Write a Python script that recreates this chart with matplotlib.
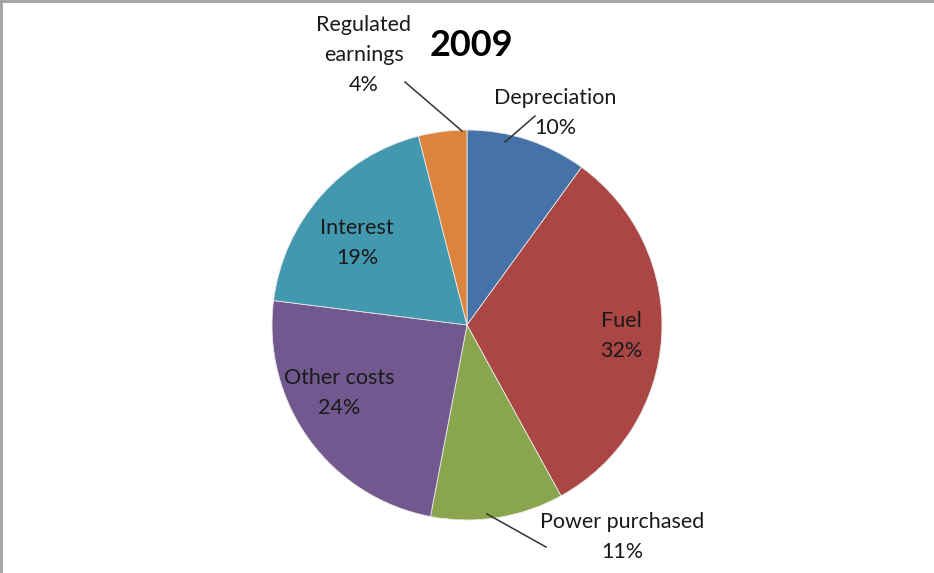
import matplotlib.pyplot as plt

categories = ['Depreciation', 'Fuel', 'Power purchased', 'Other costs', 'Interest', 'Regulated\nearnings']
shares = [10, 32, 11, 24, 19, 4]
colors = ['#4572A7', '#AA4643', '#89A54E', '#71588F', '#4198AF', '#DB843D']

# label anchors (pixels, y from top) and leader line ends
label_pos = [(555, 113), (621, 336), (622, 537), (339, 393), (357, 243), (364, 55)]
leaders = {0: ((505, 142), (535, 116)),
           2: ((487, 514), (546, 547)),
           5: ((462, 131), (405, 82))}

plt.rcParams['font.family'] = ['Lato', 'DejaVu Sans']

fig = plt.figure(figsize=(9.34, 5.73), dpi=100)
ax = fig.add_axes([0, 0, 1, 1])

# y axis is inverted, so counterclock=True runs clockwise on screen
ax.pie(shares, colors=colors, startangle=-90, counterclock=True,
       center=(467, 325), radius=195, frame=True,
       wedgeprops=dict(linewidth=0.6, edgecolor='#e8e8e8'))
ax.set_xlim(0, 934)
ax.set_ylim(573, 0)
ax.set_aspect('equal')
ax.axis('off')

for i, (name, val) in enumerate(zip(categories, shares)):
    x, y = label_pos[i]
    ax.text(x, y, f'{name}\n{val}%', ha='center', va='center', fontsize=15.5,
            color='#1a1a1a', linespacing=1.6)

for (x0, y0), (x1, y1) in leaders.values():
    ax.plot([x0, x1], [y0, y1], color='#333333', lw=1.1)

ax.text(471, 45, '2009', ha='center', va='center', fontsize=26, fontweight='bold')

# frame edges on top and left
fig.add_artist(plt.Line2D([0, 1], [0.9975, 0.9975], transform=fig.transFigure, color='#a0a0a0', lw=2))
fig.add_artist(plt.Line2D([0.001, 0.001], [0, 1], transform=fig.transFigure, color='#a0a0a0', lw=2))

fig.savefig('out.png', dpi=100)
